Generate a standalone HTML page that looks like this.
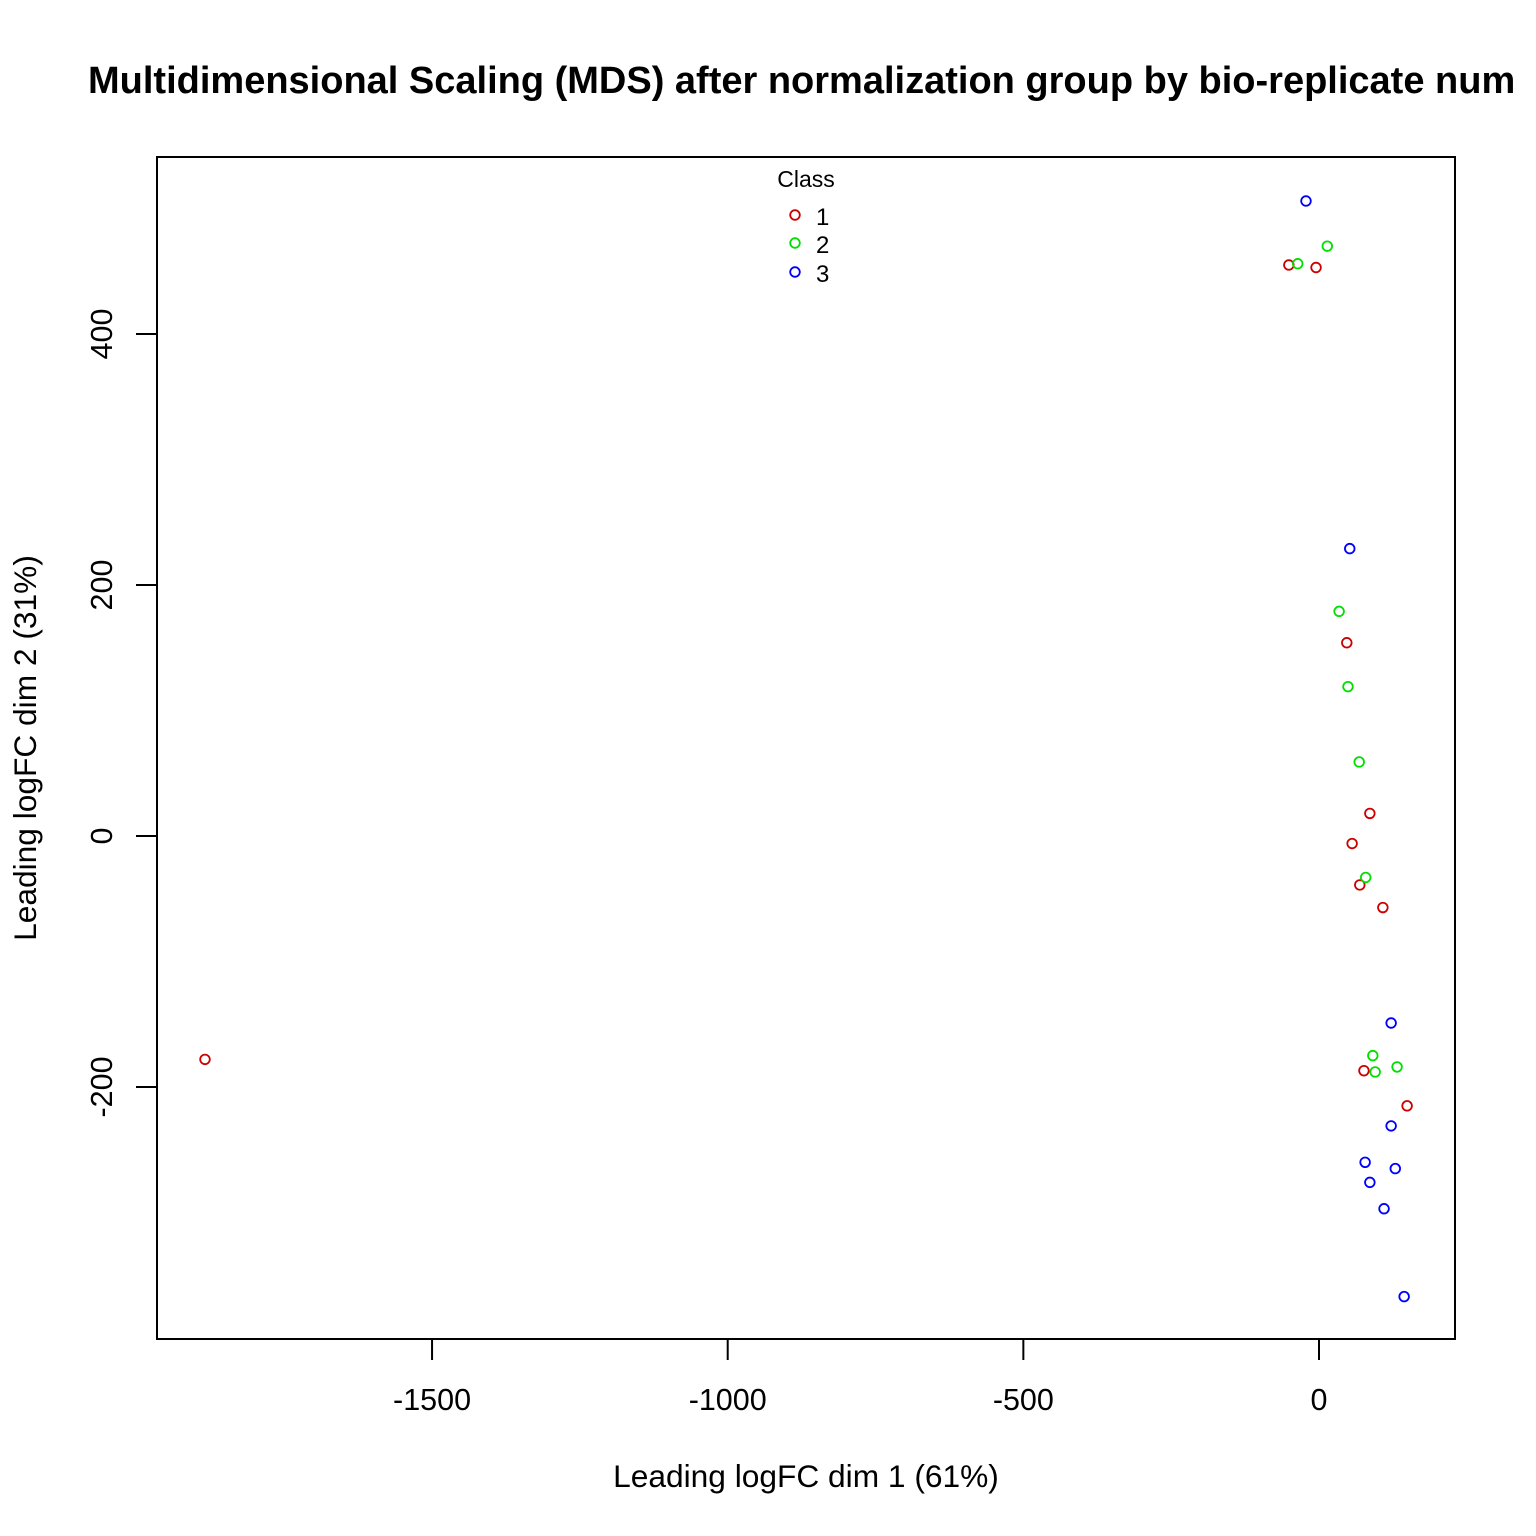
<!DOCTYPE html>
<html><head><meta charset="utf-8"><style>
body{margin:0;background:#fff;}
svg{display:block;font-family:"Liberation Sans",Arial,sans-serif;}
</style></head><body>
<svg id="chart" width="1536" height="1536" viewBox="0 0 1536 1536" xmlns="http://www.w3.org/2000/svg">
<rect width="1536" height="1536" fill="#fff"/>
<text x="88" y="93" font-size="38" font-weight="bold">Multidimensional Scaling (MDS) after normalization group by bio-replicate num</text>
<rect x="157" y="157" width="1298" height="1182" fill="none" stroke="#000" stroke-width="2"/>
<g id="xaxis"></g>
<g id="yaxis"></g>
<text x="806" y="1487" font-size="31.7" text-anchor="middle">Leading logFC dim 1 (61%)</text>
<text transform="translate(36,748) rotate(-90)" font-size="31.7" text-anchor="middle">Leading logFC dim 2 (31%)</text>
<g id="points"></g>
<g>
<text x="806" y="187" font-size="23" text-anchor="middle">Class</text>
<g><circle cx="795" cy="215" r="4.8" fill="none" stroke="#CD0000" stroke-width="1.8"/><text x="816" y="225" font-size="24">1</text></g>
<g><circle cx="795" cy="243" r="4.8" fill="none" stroke="#00E000" stroke-width="1.8"/><text x="816" y="253" font-size="24">2</text></g>
<g><circle cx="795" cy="272" r="4.8" fill="none" stroke="#0000FF" stroke-width="1.8"/><text x="816" y="282" font-size="24">3</text></g>
</g>
</svg>
<script>
const xTicks=[-1500,-1000,-500,0];
const yTicks=[-200,0,200,400];
const redX=[-1884,-51,-5,47,86,56,69,108,76,149];
const redY=[-178,455,453,154,18,-6,-39,-57,-187,-215];
const greenX=[-36,14,34,49,68,79,91,95,132];
const greenY=[456,470,179,119,59,-33,-175,-188,-184];
const blueX=[-22,52,122,122,78,86,129,110,144];
const blueY=[506,229,-149,-231,-260,-276,-265,-297,-367];
const NS="http://www.w3.org/2000/svg";
function sx(v){return 1319+v*0.5913;}
function sy(v){return 836-v*1.255;}
const xa=document.getElementById('xaxis');
for(const t of xTicks){
  const l=document.createElementNS(NS,'line');
  
  
  l.setAttribute('x1',sx(t));l.setAttribute('x2',sx(t));l.setAttribute('y1',1339);l.setAttribute('y2',1360);
  l.setAttribute('stroke','#000');l.setAttribute('stroke-width','2');xa.appendChild(l);
  const tx=document.createElementNS(NS,'text');
  
  
  tx.setAttribute('x',sx(t));tx.setAttribute('y',1410);tx.setAttribute('font-size','30.5');tx.setAttribute('text-anchor','middle');
  tx.textContent=t;xa.appendChild(tx);
}
const ya=document.getElementById('yaxis');
for(const t of yTicks){
  const l=document.createElementNS(NS,'line');
  
  
  l.setAttribute('x1',136);l.setAttribute('x2',157);l.setAttribute('y1',sy(t));l.setAttribute('y2',sy(t));
  l.setAttribute('stroke','#000');l.setAttribute('stroke-width','2');ya.appendChild(l);
  const tx=document.createElementNS(NS,'text');
  
  
  tx.setAttribute('transform','translate(112,'+sy(t)+') rotate(-90)');tx.setAttribute('font-size','30.5');tx.setAttribute('text-anchor','middle');
  tx.textContent=t;ya.appendChild(tx);
}
const pg=document.getElementById('points');
function draw(xs,ys,col,name){
  for(let i=0;i<xs.length;i++){
    const c=document.createElementNS(NS,'circle');
    
    
    c.setAttribute('cx',sx(xs[i]));c.setAttribute('cy',sy(ys[i]));c.setAttribute('r',4.8);
    c.setAttribute('fill','none');c.setAttribute('stroke',col);c.setAttribute('stroke-width','1.8');
    pg.appendChild(c);
  }
}
draw(redX,redY,'#CD0000','point-class-1');
draw(greenX,greenY,'#00E000','point-class-2');
draw(blueX,blueY,'#0000FF','point-class-3');
</script>
</body></html>
